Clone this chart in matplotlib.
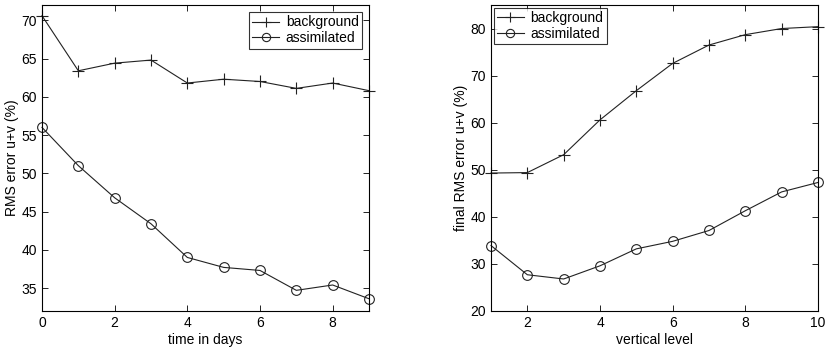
import matplotlib
matplotlib.use("Agg")
import matplotlib.pyplot as plt

plt.rcParams['font.family'] = ['Liberation Sans', 'DejaVu Sans']

days = [0, 1, 2, 3, 4, 5, 6, 7, 8, 9]
bg_time = [70.6, 63.4, 64.4, 64.8, 61.8, 62.3, 62.0, 61.1, 61.8, 60.8]
as_time = [56.0, 51.0, 46.8, 43.4, 39.0, 37.7, 37.3, 34.7, 35.4, 33.6]

levels = [1, 2, 3, 4, 5, 6, 7, 8, 9, 10]
bg_level = [49.3, 49.4, 53.2, 60.6, 66.8, 72.6, 76.5, 78.7, 80.0, 80.4]
as_level = [33.9, 27.7, 26.8, 29.6, 33.2, 34.8, 37.1, 41.3, 45.3, 47.3]

fig = plt.figure(figsize=(8.3, 3.48), dpi=100)
W, H = 830, 348
ax1 = fig.add_axes([42 / W, 1 - 311 / H, (369 - 42) / W, (311 - 5) / H])
ax2 = fig.add_axes([491 / W, 1 - 311 / H, (818 - 491) / W, (311 - 5) / H])

lw = 0.8
for ax, x, bg, asm in [(ax1, days, bg_time, as_time), (ax2, levels, bg_level, as_level)]:
    ax.plot(x, bg, color='#222222', lw=lw, marker='+', markersize=8, markeredgewidth=0.8,
            label='background', clip_on=False)
    ax.plot(x, asm, color='#222222', lw=lw, marker='o', markersize=7, markerfacecolor='none',
            markeredgewidth=0.8, label='assimilated', clip_on=False)
    ax.tick_params(direction='in', top=True, right=True, labelsize=10, length=4, width=0.6)
    for s in ax.spines.values():
        s.set_linewidth(0.8)

leg_kw = dict(fontsize=10, frameon=True, fancybox=False, edgecolor='black',
              handlelength=1.9, handletextpad=0.5, borderpad=0.25,
              labelspacing=0.12, markerscale=0.85)

ax1.set_xlim(0, 9)
ax1.set_ylim(32, 72)
ax1.set_xticks([0, 2, 4, 6, 8])
ax1.set_yticks([35, 40, 45, 50, 55, 60, 65, 70])
ax1.set_xlabel('time in days', fontsize=10, labelpad=2)
ax1.set_ylabel('RMS error u+v (%)', fontsize=10, labelpad=2)
ax1.legend(loc='upper right', borderaxespad=0.5, **leg_kw).get_frame().set_linewidth(0.8)

ax2.set_xlim(1, 10)
ax2.set_ylim(20, 85)
ax2.set_xticks([2, 4, 6, 8, 10])
ax2.set_yticks([20, 30, 40, 50, 60, 70, 80])
ax2.set_xlabel('vertical level', fontsize=10, labelpad=2)
ax2.set_ylabel('final RMS error u+v (%)', fontsize=10, labelpad=2)
ax2.legend(loc='upper left', borderaxespad=0.2, **leg_kw).get_frame().set_linewidth(0.8)

fig.savefig('out.png', dpi=100)
